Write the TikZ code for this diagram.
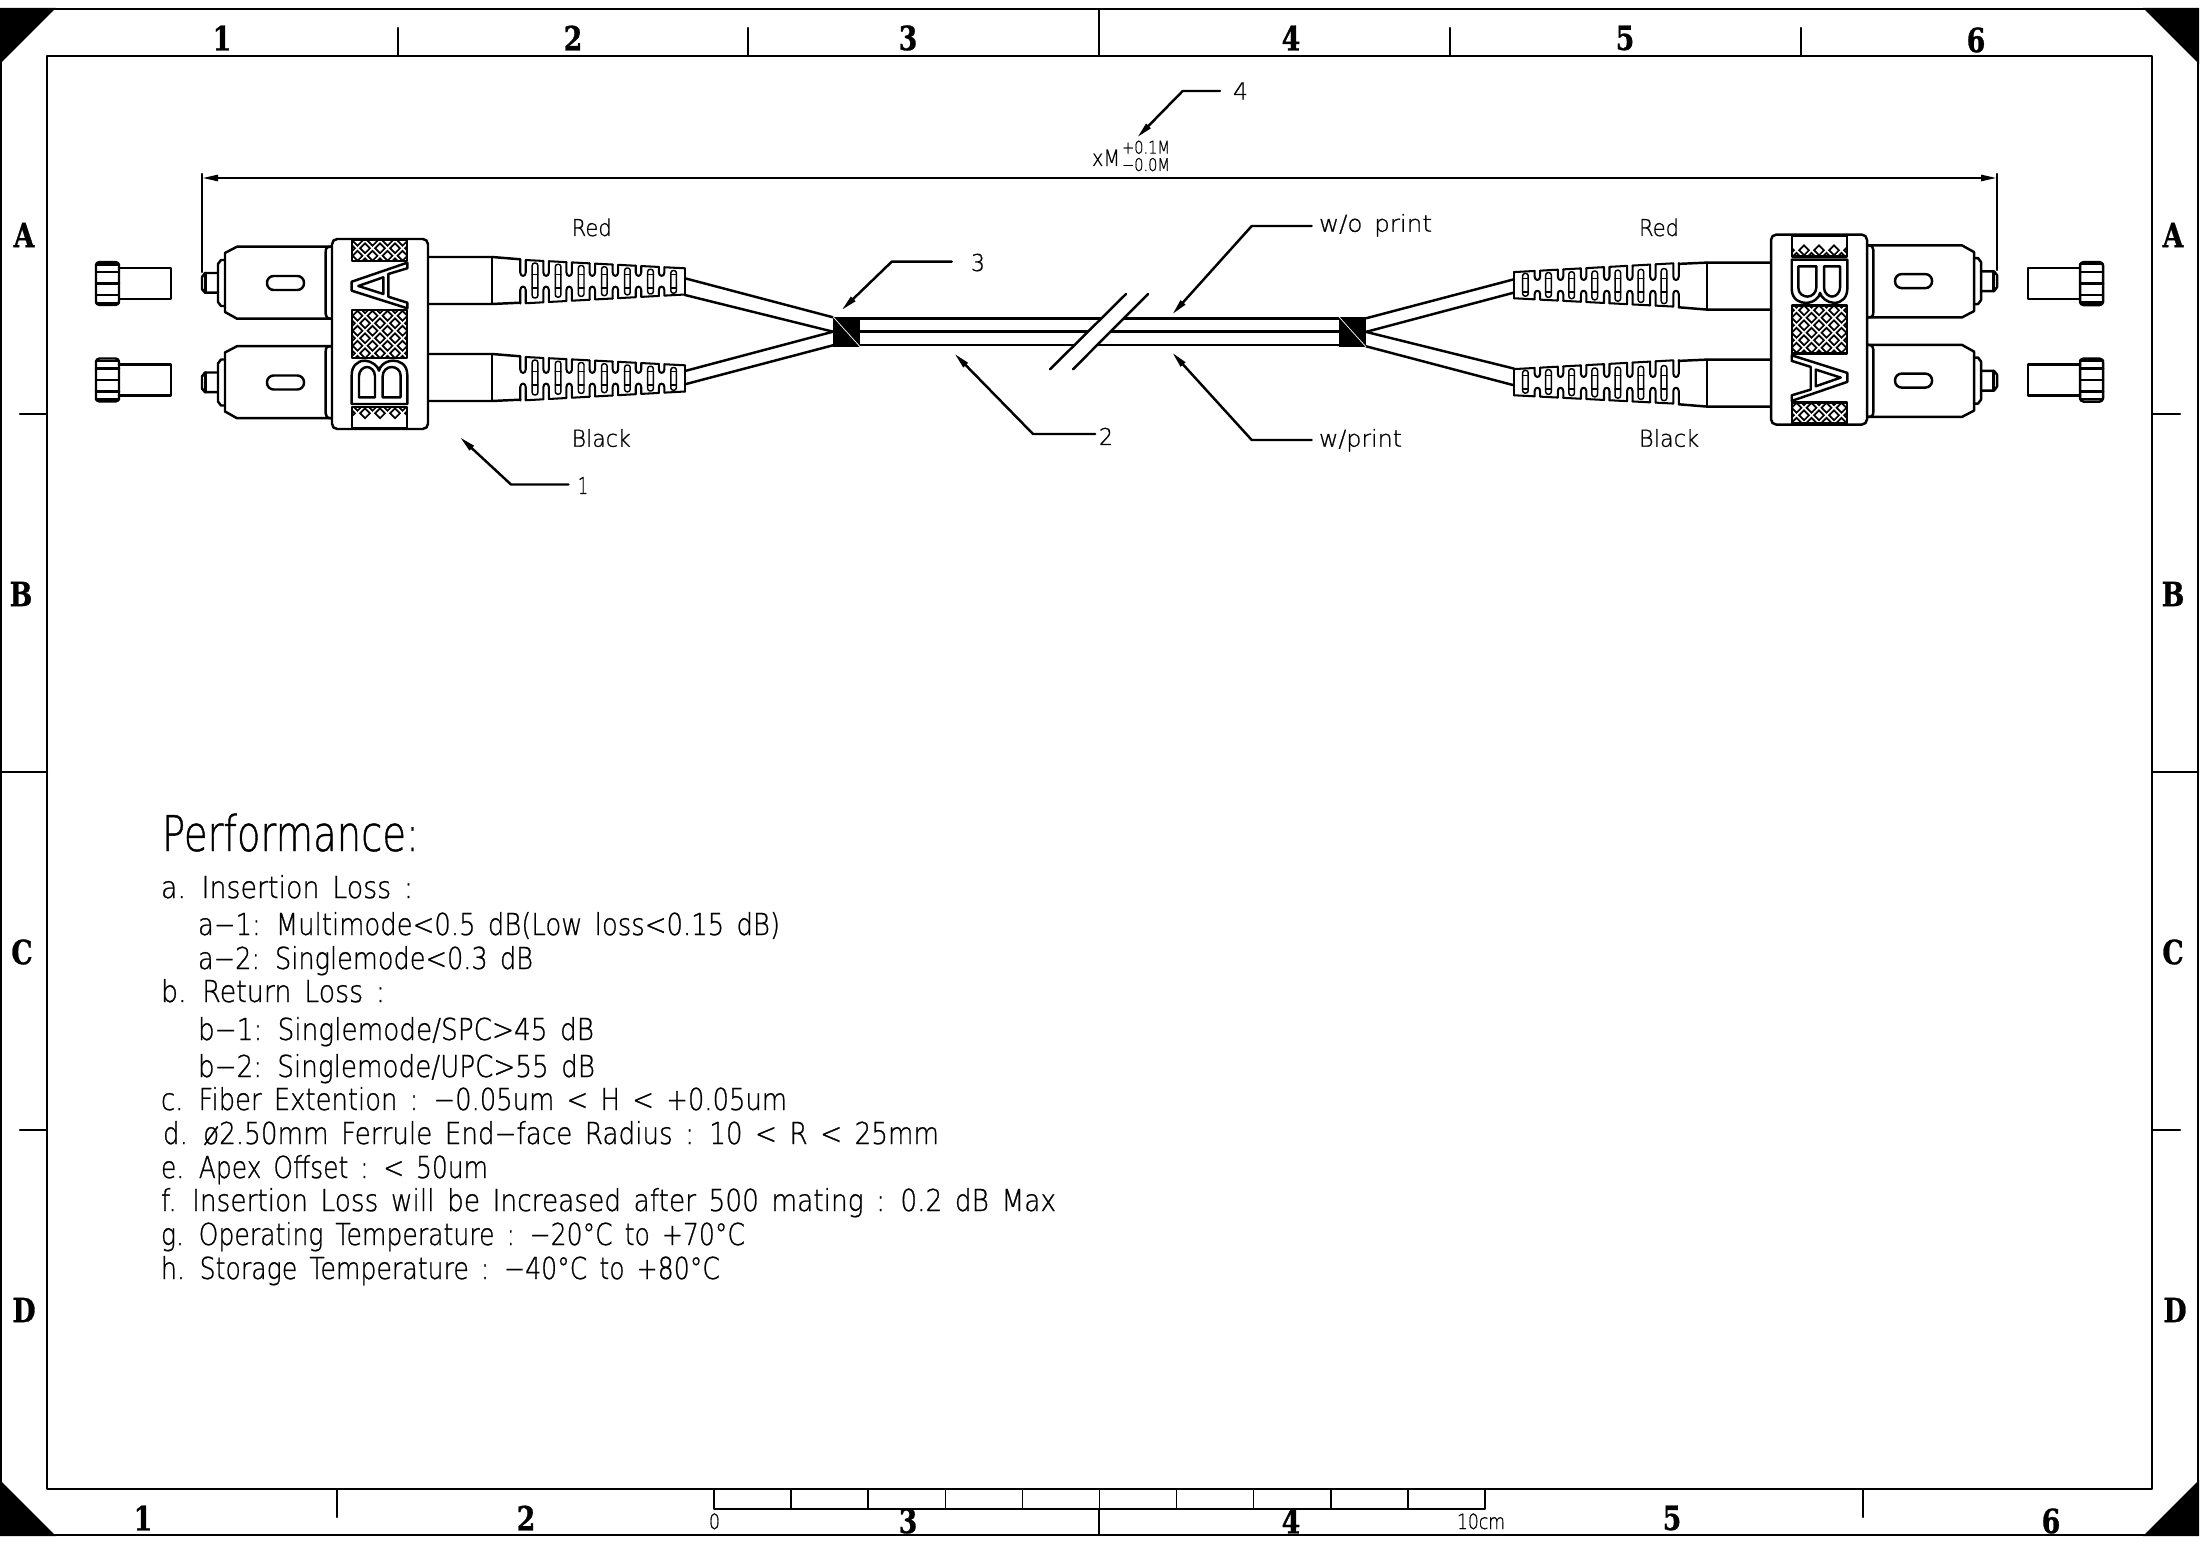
\documentclass[tikz,border=0pt]{standalone}
\usepackage{graphicx}
\usepackage{fontspec}
\usetikzlibrary{arrows.meta}
\newfontfamily\cad{DejaVu Sans}[UprightFont=* ExtraLight,WordSpace=1.5,FakeBold=0.9]
\newfontfamily\blk{DejaVu Serif}[UprightFont=* Bold,FakeStretch=0.8,FakeBold=0.8]
\newlength\pxu \setlength\pxu{0.01cm}
\tikzset{
  ln/.style={line width=0.7pt,line cap=round,line join=round},
  bootln/.style={line width=0.58pt,line cap=round,line join=round},
  thinln/.style={line width=0.42pt,line cap=round,line join=round},
  leader/.style={ln,-{Stealth[length=1.6mm,width=0.6mm,inset=0pt]}},
  txt/.style={anchor=base west,inner sep=0pt,outer sep=0pt},
  blocklabel/.style={anchor=center,inner sep=0pt,outer sep=0pt,font=\blk\fontsize{9.5}{9.5}\selectfont},
}
% name, x, baseline y, width in px, font size in pt, text
\newcommand\cadt[6]{\node[txt] (#1) at (#2,#3) {\resizebox{#4\pxu}{\height}{\fontsize{#5}{#5}\selectfont\cad #6}};}
\newcommand\hatchpatch[4]{% x0 y0 x1 y1
  \begin{scope}
    \clip (#1,#2) rectangle (#3,#4);
    \foreach \j in {-6,...,28}{
      \foreach \k in {0,...,4}{
        \pgfmathsetmacro\dx{350+15*\k+mod(\j+100,2)*7.5}
        \pgfmathsetmacro\dy{203.3+7.5*\j}
        \draw[line width=0.48pt,line join=miter] (\dx-4.9,\dy) -- (\dx,\dy-4.9) -- (\dx+4.9,\dy) -- (\dx,\dy+4.9) -- cycle;
      }
    }
  \end{scope}
  \draw[ln] (#1,#2) rectangle (#3,#4);
}
\newcommand\capknurl[1]{% y offset
  \begin{scope}[yshift=-#1*0.01cm]
    \draw[ln] (119,268) -- (171,268) -- (171,299) -- (119,299);
    \draw[ln,rounded corners=1pt] (96,262) rectangle (119,305);
    \draw[ln] (96,264.5) -- (119,264.5) (96,272) -- (119,272) (96,283.5) -- (119,283.5) (96,295) -- (119,295) (96,303) -- (119,303);
  \end{scope}
}
\newcommand\ferrule[1]{%
  \begin{scope}[yshift=-#1*0.01cm]
    \draw[ln] (332,246.7) -- (237,246.7) -- (225,253) -- (225,312) -- (237,318.7) -- (332,318.7);
    \draw[ln] (331,246.7) .. controls (327,246.7) and (325.7,248) .. (325.7,252) -- (325.7,314) .. controls (325.7,317) and (327,318.7) .. (331,318.7);
    \draw[ln] (225,260) -- (221,260) -- (218,264) -- (218,302) -- (221,306) -- (225,306);
    \draw[ln] (218,273) -- (205,273) -- (202,277) -- (202,289) -- (205,292.7) -- (218,292.7);
    \draw[ln] (205.7,273) -- (205.7,292.7);
    \draw[ln,rounded corners=1.9pt] (267,276) rectangle (304,290);
  \end{scope}
}
\newcommand\boot[1]{%
  \begin{scope}[yshift=-#1*0.01cm]
    \draw[ln] (428,257) -- (492,257) -- (520.25,259.3);
    \draw[ln] (428,304) -- (492,304) -- (520.25,302.7);
    \draw[ln] (492,257) -- (492,304);
    \foreach \i in {0,...,6}{
      \pgfmathsetmacro\n{523+23.1*\i}
      \pgfmathsetmacro\nl{\n-2.75}
      \pgfmathsetmacro\nr{\n+2.75}
      \pgfmathsetmacro\e{\i<6 ? \n+23.1-2.75 : 685}
      \pgfmathsetmacro\tl{260+(\nl-525)*0.052}
      \pgfmathsetmacro\tr{260+(\nr-525)*0.052}
      \pgfmathsetmacro\te{260+(\e-525)*0.052}
      \pgfmathsetmacro\bl{303.3-(\nl-525)*0.055}
      \pgfmathsetmacro\br{303.3-(\nr-525)*0.055}
      \pgfmathsetmacro\be{303.3-(\e-525)*0.055}
      \draw[bootln] (\nl,\tl) -- (\nl,272.5) .. controls (\nl,277) and (\nr,277) .. (\nr,272.5) -- (\nr,\tr) -- (\e,\te);
      \draw[bootln] (\nl,\bl) -- (\nl,290) .. controls (\nl,285.5) and (\nr,285.5) .. (\nr,290) -- (\nr,\br) -- (\e,\be);
      % inner slot
      \pgfmathsetmacro\c{535+23.1*\i}
      \pgfmathsetmacro\sl{\c-2.8}
      \pgfmathsetmacro\sr{\c+2.8}
      \pgfmathsetmacro\st{263+1.25*\i}
      \pgfmathsetmacro\sb{298-0.8*\i}
      \draw[thinln,rounded corners=0.7pt] (\sl,\st) rectangle (\sr,\sb);
      \draw[thinln] (\sl,274.5) -- (\sr,274.5) (\sl,288) -- (\sr,288);
    }
    \draw[bootln] (685,268.3) -- (685,294.6);
  \end{scope}
}
\newcommand\halfdrawing{%
  \capknurl{0}\capknurl{96.5}
  \ferrule{0}\ferrule{99.5}
  \boot{0}\boot{97}
  % housing
  \draw[ln,rounded corners=1.5pt,fill=white] (332,239) rectangle (428,429);
  \hatchpatch{352}{240}{407}{261}
  \hatchpatch{352}{310}{407}{358}
  \hatchpatch{352}{407}{407}{428}
  % rotated A
  \draw[ln] (407.3,262.7) -- (351.7,281.7) -- (351.7,290.7) -- (407.3,308.3) -- (407.3,302.7) -- (388.3,296.7) -- (388.3,274) -- (407.3,268.3) -- cycle;
  \draw[ln] (358.3,286) -- (383.3,277.3) -- (383.3,294) -- cycle;
  % rotated B
  \draw[ln] (351.7,404) -- (407.3,404) -- (407.3,375) .. controls (407.3,363.3) and (398.3,360.7) .. (393.3,360.7) .. controls (385,360.7) and (379.3,366.7) .. (379,370.7) .. controls (378.3,366.7) and (371.7,360.7) .. (365,360.7) .. controls (356.7,360.7) and (351.7,366.7) .. (351.7,375) -- cycle;
  \draw[ln] (359,397.3) -- (375,397.3) -- (375,376) .. controls (375,370) and (370,367) .. (367,367) .. controls (363,367) and (359,371) .. (359,376) -- cycle;
  \draw[ln] (382.7,397.3) -- (400.7,397.3) -- (400.7,376) .. controls (400.7,370) and (396,367) .. (391.5,367) .. controls (387,367) and (382.7,371) .. (382.7,376) -- cycle;
  % cords
  \draw[ln] (685,278.3) -- (833,317.3);
  \draw[ln] (685,295) -- (833,331.7);
  \draw[ln] (685,371) -- (833,331.7);
  \draw[ln] (685,384.3) -- (833,345.3);
  % splice block
  \fill[black] (833,316.7) rectangle (860,346.7);
  \draw[white,line width=0.2pt] (833,316.7) -- (860,346.7);
}
\begin{document}
\begin{tikzpicture}[x=0.01cm,y=-0.01cm]
\useasboundingbox (0,0) rectangle (2201,1543);
% frame
\draw[ln] (1,9) rectangle (2198,1535);
\draw[ln] (47,56) rectangle (2152,1489);
\fill[black] (0,8) -- (56,8) -- (0,64) -- cycle;
\fill[black] (2199,8) -- (2143,8) -- (2199,64) -- cycle;
\fill[black] (0,1536) -- (56,1536) -- (0,1480) -- cycle;
\fill[black] (2199,1536) -- (2143,1536) -- (2199,1480) -- cycle;
% frame ticks
\foreach \x in {398,748,1450,1801}{\draw[ln] (\x,28) -- (\x,56);}
\draw[ln] (1099,9) -- (1099,56);
\foreach \x in {337,1863}{\draw[ln] (\x,1489) -- (\x,1517);}
\draw[ln] (1099,1509) -- (1099,1535);
\foreach \y in {414,1130}{\draw[ln] (20,\y) -- (47,\y); \draw[ln] (2152,\y) -- (2180,\y);}
\draw[ln] (1,772) -- (47,772); \draw[ln] (2152,772) -- (2198,772);
% frame labels
\node[blocklabel] (t1) at (222,38) {1}; \node[blocklabel] (t2) at (573,38) {2};
\node[blocklabel] (t3) at (908,38) {3}; \node[blocklabel] (t4) at (1291,38) {4};
\node[blocklabel] (t5) at (1625,38) {5}; \node[blocklabel] (t6) at (1976,40) {6};
\node[blocklabel] (b1) at (143,1518) {1}; \node[blocklabel] (b2) at (526,1518) {2};
\node[blocklabel] (b3) at (908,1521) {3}; \node[blocklabel] (b4) at (1291,1521) {4};
\node[blocklabel] (b5) at (1672,1518) {5}; \node[blocklabel] (b6) at (2051,1521) {6};
\node[blocklabel] (la) at (24,235) {A}; \node[blocklabel] (lb) at (21,594) {B};
\node[blocklabel] (lc) at (22,952) {C}; \node[blocklabel] (ld) at (24,1310) {D};
\node[blocklabel] (ra) at (2173,235) {A}; \node[blocklabel] (rb) at (2173,594) {B};
\node[blocklabel] (rc) at (2173,952) {C}; \node[blocklabel] (rd) at (2175,1310) {D};
% scale bar
\draw[ln] (714,1489) rectangle (1485,1509);
\foreach \i in {1,...,9}{\pgfmathsetmacro\sx{714+77.1*\i}\draw[thinln] (\sx,1489) -- (\sx,1509);}
\cadt{sc0}{709}{1529}{11}{6}{0}
\cadt{sc10}{1457}{1529}{48}{6}{10cm}
% main cable
\draw[ln] (860,318.3) -- (1339,318.3);
\draw[ln] (860,331.7) -- (1339,331.7);
\draw[ln] (860,345) -- (1339,345);
\fill[white] (1050,369.3) -- (1126,294) -- (1148,294) -- (1073,369.3) -- cycle;
\draw[ln] (1050,369.3) -- (1126,294);
\draw[ln] (1073,369.3) -- (1148,294);
% both ends
\halfdrawing
\begin{scope}[shift={(2199,663.6)},scale=-1]
\halfdrawing
\end{scope}
% dimension
\coordinate (dl) at (202,178); \coordinate (dr) at (1997,178);
\coordinate (dlt) at (202,174); \coordinate (dlb) at (202,272);
\coordinate (drt) at (1997,174); \coordinate (drb) at (1997,270);
\draw[ln] (dlt) -- (dlb);
\draw[ln] (drt) -- (drb);
\draw[ln,{Stealth[length=1.6mm,width=0.6mm,inset=0pt]}-{Stealth[length=1.6mm,width=0.6mm,inset=0pt]}] (dl) -- (dr);
\cadt{xm}{1092}{166}{28}{6.4}{xM}
\node[txt] (tol) at (1122,171) {\resizebox{48\pxu}{\height}{\fontsize{5}{4.1}\selectfont\cad\begin{tabular}[b]{@{}l@{}}+0.1M\\−0.0M\end{tabular}}};
% leader 4
\cadt{n4}{1233}{99.5}{15}{6.6}{4}
\coordinate (e4) at (1220,91); \coordinate (k4) at (1182.7,91); \coordinate (a4) at (1137.3,137.3);
\draw[leader] (e4) -- (k4) -- (a4);
% w/o print
\cadt{wo}{1319}{231.7}{113}{6.6}{w/o print}
\coordinate (ewo) at (1311.7,226); \coordinate (kwo) at (1251.7,226); \coordinate (awo) at (1172.3,314.3);
\draw[leader] (ewo) -- (kwo) -- (awo);
% w/print
\cadt{wp}{1319}{446.7}{83}{6.6}{w/print}
\coordinate (ewp) at (1311.7,440); \coordinate (kwp) at (1251.7,440); \coordinate (awp) at (1172.3,352.7);
\draw[leader] (ewp) -- (kwp) -- (awp);
% leader 2
\cadt{n2}{1099}{445}{14}{6.6}{2}
\coordinate (e2) at (1095,434); \coordinate (k2) at (1033,434); \coordinate (a2) at (954.5,353.7);
\draw[leader] (e2) -- (k2) -- (a2);
% leader 3
\cadt{n3}{971}{271}{14}{6.6}{3}
\coordinate (e3) at (951.7,261.7); \coordinate (k3) at (891.7,261.7); \coordinate (a3) at (841.7,310);
\draw[leader] (e3) -- (k3) -- (a3);
% leader 1
\cadt{n1}{578}{494}{10}{6.6}{1}
\coordinate (e1) at (568.5,484.5); \coordinate (k1) at (511,484.5); \coordinate (a1) at (460,437.3);
\draw[leader] (e1) -- (k1) -- (a1);
% colour labels
\cadt{redl}{571.7}{236}{40}{6.6}{Red}
\cadt{blackl}{571.7}{446.7}{59}{6.6}{Black}
\cadt{redr}{1639}{236}{40}{6.6}{Red}
\cadt{blackr}{1639}{446.7}{60}{6.6}{Black}
% performance
\cadt{perf}{162}{851}{257}{14}{Performance:}
\cadt{pa}{161}{898}{252}{8.6}{a. Insertion Loss :}
\cadt{pa1}{198}{935}{582}{8.6}{a−1: Multimode<0.5 dB(Low loss<0.15 dB)}
\cadt{pa2}{198}{969}{335}{8.6}{a−2: Singlemode<0.3 dB}
\cadt{pb}{161}{1002}{224}{8.6}{b. Return Loss :}
\cadt{pb1}{198}{1040}{396}{8.6}{b−1: Singlemode/SPC>45 dB}
\cadt{pb2}{198}{1077}{397}{8.6}{b−2: Singlemode/UPC>55 dB}
\cadt{pc}{161}{1110}{626}{8.6}{c. Fiber Extention : −0.05um < H < +0.05um}
\cadt{pd}{163}{1144}{776}{8.6}{d. ø2.50mm Ferrule End−face Radius : 10 < R < 25mm}
\cadt{pe}{161}{1178}{327}{8.6}{e. Apex Offset : < 50um}
\cadt{pf}{161}{1211}{895}{8.6}{f. Insertion Loss will be Increased after 500 mating : 0.2 dB Max}
\cadt{pg}{161}{1245}{584}{8.6}{g. Operating Temperature : −20°C to +70°C}
\cadt{ph}{161}{1279}{559}{8.6}{h. Storage Temperature : −40°C to +80°C}
\end{tikzpicture}
\end{document}
